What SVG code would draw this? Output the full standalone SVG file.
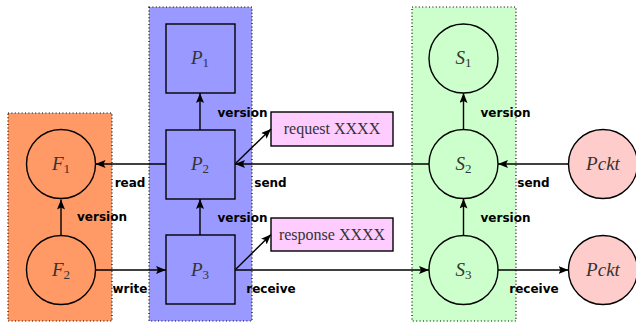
<svg xmlns="http://www.w3.org/2000/svg" width="636" height="324" viewBox="0 0 636 324">
<defs>
<marker id="ah" viewBox="0 0 10 8" refX="10" refY="4" markerWidth="10" markerHeight="8" markerUnits="userSpaceOnUse" orient="auto">
<path d="M0,0 L10,4 L0,8 L2,4 Z" fill="#000"/>
</marker>
</defs>
<style>
.cont{stroke:#000;stroke-width:1.2;stroke-dasharray:1 2.4}
.node{stroke:#000;stroke-width:1.4}
.math{font-family:"Liberation Serif",serif;font-style:italic;font-size:19px;fill:#333}
.sub{font-style:normal;font-size:13px}
.lbl{font-family:"DejaVu Sans",sans-serif;font-weight:bold;font-size:12px;fill:#000}
.msg{font-family:"Liberation Serif",serif;font-size:16px;fill:#333}
.edge{stroke:#000;stroke-width:1.4;fill:none;marker-end:url(#ah)}
</style>
<g id="containers">
<rect class="cont" x="8" y="113" width="104" height="208" fill="#FF9966"/>
<rect class="cont" x="149" y="7" width="103" height="314" fill="#9999FF"/>
<rect class="cont" x="412" y="7" width="104" height="314" fill="#CCFFCC"/>
</g>
<g id="F1"><circle class="node" cx="61" cy="164" r="34.5" fill="#FF9966"/><text class="math" x="61" y="170" text-anchor="middle">F<tspan class="sub" dy="3">1</tspan></text></g>
<g id="F2"><circle class="node" cx="61" cy="270" r="34.5" fill="#FF9966"/><text class="math" x="61" y="276" text-anchor="middle">F<tspan class="sub" dy="3">2</tspan></text></g>
<g id="P1"><rect class="node" x="166" y="24" width="69" height="69" fill="#9999FF"/><text class="math" x="200" y="64" text-anchor="middle">P<tspan class="sub" dy="3">1</tspan></text></g>
<g id="P2"><rect class="node" x="166" y="130" width="69" height="69" fill="#9999FF"/><text class="math" x="200" y="170" text-anchor="middle">P<tspan class="sub" dy="3">2</tspan></text></g>
<g id="P3"><rect class="node" x="166" y="235" width="69" height="69" fill="#9999FF"/><text class="math" x="200" y="276" text-anchor="middle">P<tspan class="sub" dy="3">3</tspan></text></g>
<g id="S1"><circle class="node" cx="463.5" cy="58.5" r="34.5" fill="#CCFFCC"/><text class="math" x="463.5" y="64" text-anchor="middle">S<tspan class="sub" dy="3">1</tspan></text></g>
<g id="S2"><circle class="node" cx="463.5" cy="164" r="34.5" fill="#CCFFCC"/><text class="math" x="463.5" y="170" text-anchor="middle">S<tspan class="sub" dy="3">2</tspan></text></g>
<g id="S3"><circle class="node" cx="463.5" cy="270" r="34.5" fill="#CCFFCC"/><text class="math" x="463.5" y="276" text-anchor="middle">S<tspan class="sub" dy="3">3</tspan></text></g>
<g id="Pckt1"><circle class="node" cx="603" cy="164" r="34.5" fill="#FFCCCC"/><text class="math" x="603" y="170" text-anchor="middle">Pckt</text></g>
<g id="Pckt2"><circle class="node" cx="603" cy="270" r="34.5" fill="#FFCCCC"/><text class="math" x="603" y="276" text-anchor="middle">Pckt</text></g>
<g id="request"><rect class="node" x="271" y="112" width="122" height="34" fill="#FFCCFF"/><text class="msg" x="332" y="134" text-anchor="middle">request XXXX</text></g>
<g id="response"><rect class="node" x="271" y="218" width="122" height="33" fill="#FFCCFF"/><text class="msg" x="332" y="240" text-anchor="middle">response XXXX</text></g>
<g id="connectors">
<line class="edge" x1="61" y1="235.5" x2="61" y2="199.5"/>
<line class="edge" x1="200" y1="130" x2="200" y2="93"/>
<line class="edge" x1="200" y1="235" x2="200" y2="199"/>
<line class="edge" x1="463.5" y1="129.5" x2="463.5" y2="93"/>
<line class="edge" x1="463.5" y1="235.5" x2="463.5" y2="198.5"/>
<line class="edge" x1="166" y1="164" x2="95.5" y2="164"/>
<line class="edge" x1="95.5" y1="270" x2="166" y2="270"/>
<line class="edge" x1="429" y1="164" x2="235" y2="164"/>
<line class="edge" x1="235" y1="270" x2="429" y2="270"/>
<line class="edge" x1="568.5" y1="164" x2="498" y2="164"/>
<line class="edge" x1="498" y1="270" x2="568.5" y2="270"/>
<line class="edge" x1="236" y1="163" x2="271" y2="129"/>
<line class="edge" x1="236" y1="269" x2="271" y2="234.5"/>
</g>
<g id="labels">
<text class="lbl" x="102" y="221" text-anchor="middle">version</text>
<text class="lbl" x="242.5" y="117" text-anchor="middle">version</text>
<text class="lbl" x="242.5" y="222" text-anchor="middle">version</text>
<text class="lbl" x="505.5" y="117" text-anchor="middle">version</text>
<text class="lbl" x="505.5" y="222" text-anchor="middle">version</text>
<text class="lbl" x="130" y="187" text-anchor="middle">read</text>
<text class="lbl" x="130" y="293" text-anchor="middle">write</text>
<text class="lbl" x="270.5" y="187" text-anchor="middle">send</text>
<text class="lbl" x="533.5" y="187" text-anchor="middle">send</text>
<text class="lbl" x="271" y="293" text-anchor="middle">receive</text>
<text class="lbl" x="534" y="293" text-anchor="middle">receive</text>
</g>
</svg>
